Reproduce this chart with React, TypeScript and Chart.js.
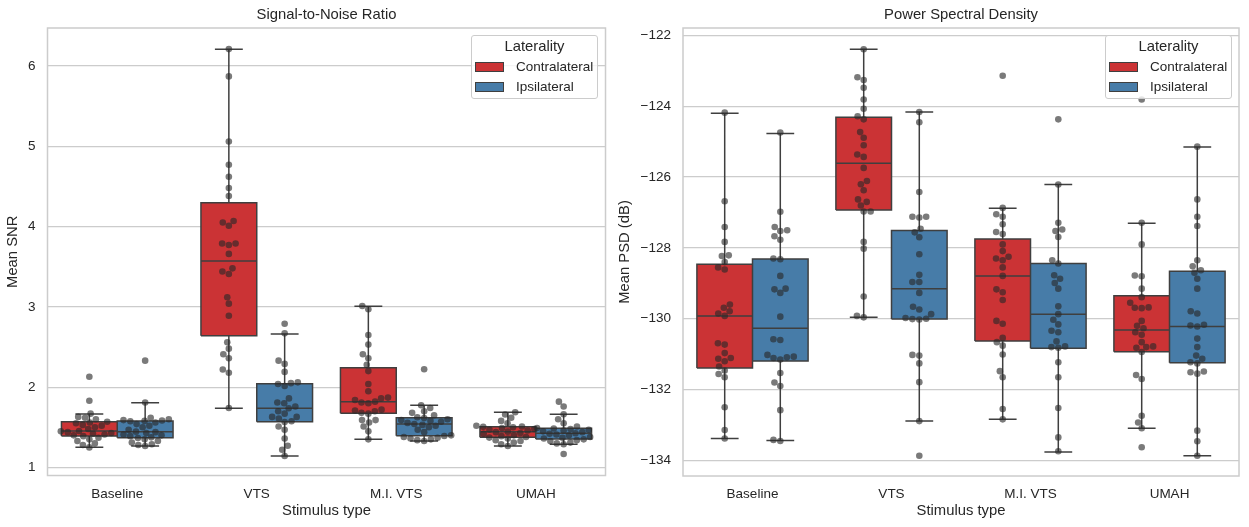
import React, { useEffect, useRef } from 'react';
import { Chart, registerables } from 'chart.js';
Chart.register(...registerables);

const FONT = "'Liberation Sans', Arial, 'Helvetica Neue', sans-serif";
const TEXT = '#262626';
const GRID = '#cccccc';
const LINE = '#3f3f3f';
const RED = '#cb3335';
const BLUE = '#477ca8';
const DOT = 'rgba(40,40,40,0.62)';

const categories = ['Baseline', 'VTS', 'M.I. VTS', 'UMAH'];
const hues = ['Contralateral', 'Ipsilateral'];
const hueColors = [RED, BLUE];
const snrTicks = [1, 2, 3, 4, 5, 6];
const psdTicks = [-134, -132, -130, -128, -126, -124, -122];

// box stats per category: [lowWhisker, q1, median, q3, highWhisker]
const snrContraBox = [
  [1.252, 1.392, 1.455, 1.57, 1.666],
  [1.737, 2.641, 3.572, 4.298, 6.208],
  [1.35, 1.675, 1.82, 2.243, 3.007],
  [1.268, 1.376, 1.446, 1.508, 1.687],
];
const snrIpsiBox = [
  [1.268, 1.371, 1.446, 1.579, 1.807],
  [1.143, 1.57, 1.737, 2.044, 2.663],
  [1.33, 1.396, 1.542, 1.62, 1.774],
  [1.289, 1.355, 1.426, 1.488, 1.663],
];
const psdContraBox = [
  [-133.38, -131.39, -129.92, -128.46, -124.2],
  [-129.96, -126.93, -125.61, -124.31, -122.39],
  [-132.84, -130.63, -128.79, -127.75, -126.88],
  [-133.09, -130.93, -130.32, -129.35, -127.3],
];
const psdIpsiBox = [
  [-133.44, -131.19, -130.27, -128.31, -124.77],
  [-132.89, -130.01, -129.15, -127.51, -124.16],
  [-133.76, -130.83, -129.87, -128.44, -126.21],
  [-133.87, -131.24, -130.22, -128.66, -125.15],
];

// individual subject values
const snrContraPts = [
  [2.13, 1.83, 1.67, 1.63, 1.62, 1.6, 1.57, 1.56, 1.55, 1.53, 1.52, 1.5, 1.48, 1.455, 1.45, 1.44, 1.43, 1.42, 1.41, 1.4, 1.39, 1.37, 1.35, 1.33, 1.3, 1.28, 1.25],
  [6.21, 5.87, 5.06, 4.77, 4.62, 4.48, 4.38, 4.07, 4.05, 4.01, 3.79, 3.79, 3.77, 3.66, 3.48, 3.44, 3.41, 3.12, 3.04, 2.89, 2.56, 2.48, 2.41, 2.36, 2.22, 2.18, 1.74],
  [3.01, 2.97, 2.65, 2.53, 2.41, 2.36, 2.28, 2.2, 2.04, 1.95, 1.87, 1.86, 1.84, 1.82, 1.81, 1.8, 1.72, 1.71, 1.7, 1.68, 1.67, 1.59, 1.59, 1.56, 1.51, 1.45, 1.35],
  [1.687, 1.66, 1.62, 1.58, 1.55, 1.52, 1.51, 1.506, 1.5, 1.49, 1.48, 1.47, 1.46, 1.446, 1.44, 1.43, 1.42, 1.4, 1.39, 1.38, 1.372, 1.36, 1.34, 1.33, 1.31, 1.29, 1.268],
];
const snrIpsiPts = [
  [2.33, 1.81, 1.62, 1.6, 1.59, 1.585, 1.58, 1.575, 1.56, 1.54, 1.52, 1.5, 1.47, 1.446, 1.44, 1.43, 1.41, 1.4, 1.39, 1.375, 1.367, 1.35, 1.33, 1.31, 1.29, 1.28, 1.268],
  [2.79, 2.67, 2.33, 2.29, 2.19, 2.06, 2.05, 2.04, 2.015, 1.86, 1.81, 1.8, 1.76, 1.737, 1.7, 1.67, 1.63, 1.63, 1.61, 1.575, 1.565, 1.51, 1.47, 1.36, 1.27, 1.22, 1.143],
  [2.223, 1.774, 1.74, 1.7, 1.68, 1.65, 1.625, 1.615, 1.6, 1.59, 1.58, 1.57, 1.555, 1.542, 1.53, 1.52, 1.5, 1.47, 1.44, 1.4, 1.392, 1.38, 1.37, 1.36, 1.35, 1.34, 1.33],
  [1.82, 1.76, 1.663, 1.6, 1.55, 1.51, 1.49, 1.486, 1.48, 1.47, 1.46, 1.45, 1.44, 1.426, 1.42, 1.41, 1.4, 1.38, 1.37, 1.36, 1.35, 1.34, 1.33, 1.31, 1.3, 1.289, 1.168],
];
const psdContraPts = [
  [-124.18, -126.68, -127.41, -127.83, -128.21, -128.23, -128.4, -128.55, -128.61, -129.6, -129.69, -129.79, -129.85, -129.92, -130.69, -130.73, -130.97, -131.11, -131.13, -131.2, -131.35, -131.46, -131.56, -131.65, -132.5, -133.14, -133.38],
  [-122.39, -123.18, -123.26, -123.48, -123.81, -124.07, -124.28, -124.37, -124.73, -124.89, -125.1, -125.36, -125.43, -125.74, -126.11, -126.2, -126.37, -126.63, -126.7, -126.8, -126.97, -126.97, -127.83, -128.02, -129.37, -129.92, -129.96],
  [-123.14, -126.87, -127.05, -127.12, -127.33, -127.55, -127.61, -127.9, -128.09, -128.25, -128.3, -128.35, -128.55, -128.79, -129.17, -129.25, -129.47, -130.06, -130.14, -130.54, -130.66, -130.76, -131.01, -131.48, -131.65, -132.55, -132.84],
  [-123.81, -127.29, -127.9, -128.78, -128.8, -129.15, -129.39, -129.55, -129.68, -129.69, -129.7, -130.06, -130.2, -130.27, -130.38, -130.45, -130.66, -130.78, -130.8, -130.82, -130.94, -131.59, -131.7, -132.74, -132.93, -133.09, -133.63],
];
const psdIpsiPts = [
  [-124.74, -126.98, -127.41, -127.5, -127.52, -127.67, -127.77, -128.3, -128.32, -128.79, -129.15, -129.17, -129.27, -129.94, -130.58, -130.6, -131.02, -131.07, -131.09, -131.11, -131.15, -131.53, -131.8, -131.9, -132.58, -133.42, -133.45],
  [-124.16, -124.45, -126.42, -127.12, -127.12, -127.14, -127.46, -127.56, -127.7, -128.18, -128.76, -128.96, -128.96, -129.27, -129.66, -129.74, -129.87, -129.98, -130.0, -130.01, -130.02, -131.02, -131.04, -131.26, -131.79, -132.89, -133.87],
  [-124.37, -126.21, -127.29, -127.48, -127.52, -127.69, -128.35, -128.44, -128.77, -128.87, -128.99, -129.15, -129.65, -129.87, -130.03, -130.16, -130.34, -130.38, -130.64, -130.78, -130.8, -130.82, -131.23, -131.65, -132.52, -133.35, -133.74],
  [-125.14, -126.63, -127.12, -127.38, -128.35, -128.52, -128.63, -128.7, -128.87, -129.15, -129.79, -129.85, -130.17, -130.19, -130.22, -130.56, -130.8, -131.04, -131.13, -131.23, -131.26, -131.49, -131.51, -131.55, -133.16, -133.46, -133.87],
];

type PanelCfg = {
  title: string;
  yLabel: string;
  yMin: number;
  yMax: number;
  ticks: number[];
  contraBox: number[][];
  ipsiBox: number[][];
  contraPts: number[][];
  ipsiPts: number[][];
  width: number;
  left: number;
  yAxisWidth: number;
  xAxisHeight: number;
  padRight: number;
  legendLeft: number;
};

const panels: PanelCfg[] = [
  {
    title: 'Signal-to-Noise Ratio', yLabel: 'Mean SNR', yMin: 0.9, yMax: 6.473, ticks: snrTicks,
    contraBox: snrContraBox, ipsiBox: snrIpsiBox, contraPts: snrContraPts, ipsiPts: snrIpsiPts,
    width: 612, left: 0, yAxisWidth: 47.5, xAxisHeight: 51.5, padRight: 6.5, legendLeft: 471,
  },
  {
    title: 'Power Spectral Density', yLabel: 'Mean PSD (dB)', yMin: -134.44, yMax: -121.79, ticks: psdTicks,
    contraBox: psdContraBox, ipsiBox: psdIpsiBox, contraPts: psdContraPts, ipsiPts: psdIpsiPts,
    width: 637, left: 612, yAxisWidth: 71, xAxisHeight: 51, padRight: 10, legendLeft: 1105,
  },
];

const HUE_OFF = [-0.2, 0.2];
const BOX_HALF = 0.2;
const CAP_HALF = 0.1;
const DOT_D = 6.6;

// box bodies: one filled line per box (top edge at q3 filled down to q1)
function boxFillDatasets(cfg: PanelCfg) {
  const out: any[] = [];
  [cfg.contraBox, cfg.ipsiBox].forEach((boxes, h) => {
    boxes.forEach((b, i) => {
      const c = i + HUE_OFF[h];
      out.push({
        type: 'line', label: hues[h] + ' ' + categories[i],
        data: [{ x: c - BOX_HALF, y: b[3] }, { x: c + BOX_HALF, y: b[3] }],
        fill: { value: b[1] }, backgroundColor: hueColors[h], borderWidth: 0, borderColor: 'rgba(0,0,0,0)',
        pointRadius: 0, order: 3,
      });
    });
  });
  return out;
}

// box outlines, whiskers, caps and medians
function boxLines(cfg: PanelCfg) {
  const out: { x: number; y: number | null }[] = [];
  const brk = (x: number) => out.push({ x, y: null });
  [cfg.contraBox, cfg.ipsiBox].forEach((boxes, h) => {
    boxes.forEach((b, i) => {
      const c = i + HUE_OFF[h];
      const [lo, q1, med, q3, hi] = b;
      const l = c - BOX_HALF;
      const r = c + BOX_HALF;
      out.push({ x: l, y: q1 }, { x: l, y: q3 }, { x: r, y: q3 }, { x: r, y: q1 }, { x: l, y: q1 });
      brk(l);
      out.push({ x: c, y: q3 }, { x: c, y: hi });
      brk(c);
      out.push({ x: c, y: q1 }, { x: c, y: lo });
      brk(c);
      out.push({ x: c - CAP_HALF, y: hi }, { x: c + CAP_HALF, y: hi });
      brk(c);
      out.push({ x: c - CAP_HALF, y: lo }, { x: c + CAP_HALF, y: lo });
      brk(c);
      out.push({ x: l, y: med }, { x: r, y: med });
      brk(r);
    });
  });
  return out;
}

function initialPoints(cfg: PanelCfg) {
  const out: { x: number; y: number }[] = [];
  [cfg.contraPts, cfg.ipsiPts].forEach((groups, h) => {
    groups.forEach((vals, i) => vals.forEach((v) => out.push({ x: i + HUE_OFF[h], y: v })));
  });
  return out;
}

// beeswarm layout (like seaborn swarmplot) computed in pixel space
function swarmPoints(chart: any, cfg: PanelCfg) {
  const xs = chart.scales.x;
  const ys = chart.scales.y;
  const ppu = xs.getPixelForValue(1) - xs.getPixelForValue(0);
  const out: { x: number; y: number }[] = [];
  [cfg.contraPts, cfg.ipsiPts].forEach((groups, h) => {
    groups.forEach((vals, i) => {
      const center = i + HUE_OFF[h];
      const cx = xs.getPixelForValue(center);
      const pts = vals.map((v) => ({ v, py: ys.getPixelForValue(v) }));
      const order = pts.map((_, k) => k).sort((a, b) => pts[b].py - pts[a].py);
      const placed: { x: number; y: number }[] = [];
      for (const k of order) {
        const py = pts[k].py;
        const neighbors = placed.filter((p) => Math.abs(p.y - py) < DOT_D);
        const cands: number[] = [cx];
        let leftFirst = true;
        for (const n of neighbors) {
          const dy = py - n.y;
          const dx = Math.sqrt(Math.max(DOT_D * DOT_D - dy * dy, 0)) * 1.05;
          if (leftFirst) cands.push(n.x - dx, n.x + dx);
          else cands.push(n.x + dx, n.x - dx);
          leftFirst = !leftFirst;
        }
        const sorted = cands
          .map((c, idx) => ({ c, idx }))
          .sort((a, b) => Math.abs(a.c - cx) - Math.abs(b.c - cx) || a.idx - b.idx);
        let chosen = cx;
        for (const { c } of sorted) {
          if (neighbors.every((n) => (n.x - c) ** 2 + (n.y - py) ** 2 >= DOT_D * DOT_D - 0.01)) {
            chosen = c;
            break;
          }
        }
        placed.push({ x: chosen, y: py });
        out.push({ x: center + (chosen - cx) / ppu, y: pts[k].v });
      }
    });
  });
  return out;
}

const framePlugin = {
  id: 'axesFrame',
  beforeDatasetsDraw(chart: any) {
    const { ctx, chartArea } = chart;
    const { left, top, right, bottom } = chartArea;
    ctx.save();
    ctx.strokeStyle = GRID;
    ctx.lineWidth = 1.5;
    ctx.strokeRect(left, top, right - left, bottom - top);
    ctx.restore();
  },
};

const fmtTick = (v: number) => (v < 0 ? '\u2212' + Math.abs(v) : String(v));

function buildConfig(cfg: PanelCfg): any {
  const fills = boxFillDatasets(cfg);
  return {
    type: 'scatter',
    data: {
      datasets: [
        {
          type: 'scatter', label: 'subjects', data: initialPoints(cfg),
          backgroundColor: DOT, borderWidth: 0, pointRadius: DOT_D / 2, order: 1,
        },
        {
          type: 'line', label: 'box lines', data: boxLines(cfg),
          borderColor: LINE, borderWidth: 1.5, pointRadius: 0, spanGaps: false, fill: false,
          tension: 0, borderJoinStyle: 'miter', order: 2,
        },
        ...fills,
      ],
    },
    options: {
      responsive: false,
      animation: false,
      events: [],
      devicePixelRatio: 1,
      layout: { padding: { left: 0, top: 0, right: cfg.padRight, bottom: 0 } },
      plugins: {
        legend: { display: false },
        tooltip: { enabled: false },
        title: {
          display: true, text: cfg.title, fullSize: false, color: TEXT,
          font: { family: FONT, size: 14.8, weight: 'normal', lineHeight: 1.2 },
          padding: { top: 6.5, bottom: 3.74 },
        },
      },
      scales: {
        x: {
          type: 'linear', min: -0.5, max: 3.5, offset: false,
          afterBuildTicks: (s: any) => { s.ticks = categories.map((_, i) => ({ value: i })); },
          grid: { display: false }, border: { display: false },
          ticks: {
            color: TEXT, font: { family: FONT, size: 13.5 }, padding: 2.5, maxRotation: 0, autoSkip: false,
            callback: (v: any) => categories[Math.round(Number(v))] ?? '',
          },
          title: {
            display: true, text: 'Stimulus type', color: TEXT,
            font: { family: FONT, size: 14.8, lineHeight: 1.2 }, padding: { top: 0, bottom: 7 },
          },
          afterFit: (s: any) => { s.height = cfg.xAxisHeight; },
        },
        y: {
          type: 'linear', min: cfg.yMin, max: cfg.yMax,
          afterBuildTicks: (s: any) => { s.ticks = cfg.ticks.map((v) => ({ value: v })); },
          grid: { color: GRID, lineWidth: 1.2, drawTicks: false },
          border: { display: false },
          ticks: { color: TEXT, font: { family: FONT, size: 13.5 }, padding: 12, callback: (v: any) => fmtTick(Number(v)) },
          title: {
            display: true, text: cfg.yLabel, color: TEXT,
            font: { family: FONT, size: 14.8, lineHeight: 1.2 }, padding: { top: 4, bottom: 0 },
          },
          afterFit: (s: any) => { s.width = cfg.yAxisWidth; },
        },
      },
    },
    plugins: [framePlugin],
  };
}

function Panel({ cfg }: { cfg: PanelCfg }) {
  const ref = useRef<HTMLCanvasElement>(null);
  useEffect(() => {
    const chart = new Chart(ref.current as HTMLCanvasElement, buildConfig(cfg));
    (chart.data.datasets[0] as any).data = swarmPoints(chart, cfg);
    chart.update('none');
    return () => chart.destroy();
  }, []);
  return (
    <canvas
      ref={ref}
      width={cfg.width}
      height={527}
      style={{ position: 'absolute', left: cfg.left, top: 0, width: cfg.width, height: 527 }}
    />
  );
}

function Legend({ left }: { left: number }) {
  const patch = (color: string, top: number) => ({
    position: 'absolute' as const, left: 3, top, width: 29, height: 10.5, boxSizing: 'border-box' as const,
    background: color, border: '1.2px solid ' + LINE,
  });
  const label = (top: number) => ({
    position: 'absolute' as const, left: 44, top, height: 16, lineHeight: '16px', fontSize: 13.5, whiteSpace: 'nowrap' as const,
  });
  return (
    <div
      style={{
        position: 'absolute', left, top: 35, width: 127, height: 64, boxSizing: 'border-box',
        border: '1px solid ' + GRID, borderRadius: 3, background: 'rgba(255,255,255,0.8)',
        fontFamily: FONT, color: TEXT, zIndex: 2,
      }}
    >
      <div style={{ position: 'absolute', left: 0, right: 0, top: 0.5, height: 18, lineHeight: '18px', fontSize: 14.8, textAlign: 'center' }}>
        Laterality
      </div>
      <div style={patch(RED, 25.7)} />
      <div style={label(22.8)}>{hues[0]}</div>
      <div style={patch(BLUE, 45.8)} />
      <div style={label(42.8)}>{hues[1]}</div>
    </div>
  );
}

export default function App() {
  return (
    <div style={{ position: 'absolute', left: 0, top: 0, width: 1249, height: 527, background: '#ffffff', overflow: 'hidden' }}>
      {panels.map((p) => (
        <Panel key={p.title} cfg={p} />
      ))}
      {panels.map((p) => (
        <Legend key={'lg' + p.title} left={p.legendLeft} />
      ))}
    </div>
  );
}
